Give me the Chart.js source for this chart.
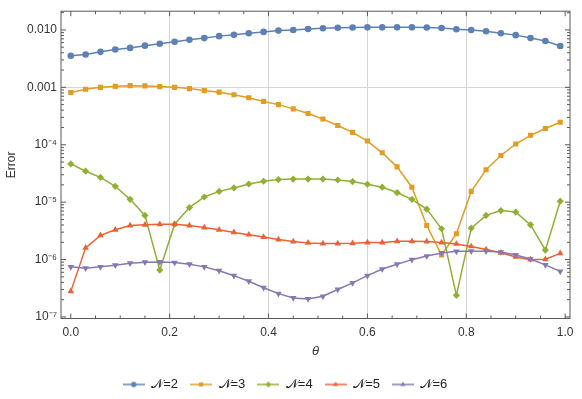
<!DOCTYPE html>
<html>
<head>
<meta charset="utf-8">
<script src="https://cdn.jsdelivr.net/npm/chart.js"></script>
<style>
  body { margin: 0; background: #fff; }
</style>
</head>
<body>
<canvas id="errChart" width="582" height="399"></canvas>
<script>
// theta values (x)
const theta = [0, 0.03, 0.06, 0.09, 0.12, 0.15, 0.18, 0.21, 0.24, 0.27, 0.30, 0.33,
  0.36, 0.39, 0.42, 0.45, 0.48, 0.51, 0.54, 0.57, 0.60, 0.63, 0.66, 0.69, 0.72,
  0.75, 0.78, 0.81, 0.84, 0.87, 0.90, 0.93, 0.96, 0.99];

// error for each N
const errN2 = [3.55e-3, 3.73e-3, 4.15e-3, 4.55e-3, 4.86e-3, 5.32e-3, 5.75e-3, 6.23e-3,
  6.74e-3, 7.21e-3, 7.80e-3, 8.21e-3, 8.77e-3, 9.24e-3, 9.73e-3, 1.00e-2, 1.04e-2,
  1.07e-2, 1.09e-2, 1.10e-2, 1.11e-2, 1.11e-2, 1.11e-2, 1.11e-2, 1.10e-2, 1.08e-2,
  1.03e-2, 1.00e-2, 9.50e-3, 8.77e-3, 8.12e-3, 7.21e-3, 6.41e-3, 5.26e-3];
const errN3 = [8.11e-4, 9.27e-4, 1.00e-3, 1.04e-3, 1.07e-3, 1.06e-3, 1.03e-3, 1.00e-3,
  9.50e-4, 8.78e-4, 8.24e-4, 7.41e-4, 6.58e-4, 5.69e-4, 5.00e-4, 4.22e-4, 3.51e-4,
  2.80e-4, 2.16e-4, 1.64e-4, 1.16e-4, 7.24e-5, 4.12e-5, 1.82e-5, 3.91e-6, 1.20e-6,
  2.82e-6, 1.54e-5, 3.66e-5, 6.50e-5, 1.03e-4, 1.46e-4, 1.92e-4, 2.46e-4];
const errN4 = [4.63e-5, 3.46e-5, 2.70e-5, 1.89e-5, 1.12e-5, 5.88e-6, 6.56e-7, 4.12e-6,
  8.05e-6, 1.23e-5, 1.54e-5, 1.77e-5, 2.07e-5, 2.31e-5, 2.47e-5, 2.52e-5, 2.52e-5,
  2.52e-5, 2.43e-5, 2.28e-5, 2.05e-5, 1.82e-5, 1.47e-5, 1.12e-5, 7.55e-6, 3.44e-6,
  2.38e-7, 3.52e-6, 5.88e-6, 7.14e-6, 6.71e-6, 4.02e-6, 1.46e-6, 1.04e-5];
const errN5 = [2.79e-7, 1.60e-6, 2.64e-6, 3.30e-6, 3.91e-6, 4.02e-6, 4.12e-6, 4.12e-6,
  3.91e-6, 3.61e-6, 3.30e-6, 2.97e-6, 2.71e-6, 2.47e-6, 2.23e-6, 2.06e-6, 1.95e-6,
  1.90e-6, 1.90e-6, 1.92e-6, 1.98e-6, 1.98e-6, 2.08e-6, 2.08e-6, 2.06e-6, 1.98e-6,
  1.87e-6, 1.69e-6, 1.50e-6, 1.31e-6, 1.11e-6, 9.96e-7, 1.01e-6, 1.28e-6];
const errN6 = [7.46e-7, 7.09e-7, 7.46e-7, 7.98e-7, 8.64e-7, 8.99e-7, 9.10e-7, 8.86e-7,
  8.31e-7, 7.46e-7, 6.38e-7, 5.24e-7, 4.19e-7, 3.23e-7, 2.55e-7, 2.14e-7, 2.06e-7,
  2.29e-7, 3.01e-7, 3.93e-7, 5.24e-7, 6.83e-7, 8.31e-7, 9.96e-7, 1.15e-6, 1.30e-6,
  1.39e-6, 1.40e-6, 1.40e-6, 1.35e-6, 1.20e-6, 1.02e-6, 8.09e-7, 6.21e-7];

const seriesLabels = ['\u{1D4A9}=2', '\u{1D4A9}=3', '\u{1D4A9}=4', '\u{1D4A9}=5', '\u{1D4A9}=6'];

// tick labels
const xTicks = [0, 0.2, 0.4, 0.6, 0.8, 1.0];
const xGrid = [0.2, 0.4, 0.6, 0.8];
const yTicks = [1e-2, 1e-3, 1e-4, 1e-5, 1e-6, 1e-7];
const yTickLabels = ['0.010', '0.001', '10\u207B\u2074', '10\u207B\u2075', '10\u207B\u2076', '10\u207B\u2077'];
const yGrid = [1e-3];

const colors = ['#5E81B5', '#E19C24', '#8FB032', '#EB6235', '#8778B3'];
const markers = [
  { style: 'circle', r: 3.3, rot: 0 },
  { style: 'rect', r: 3.6, rot: 0 },
  { style: 'rectRot', r: 3.6, rot: 0 },
  { style: 'triangle', r: 3.8, rot: 0 },
  { style: 'triangle', r: 3.8, rot: 180 }
];
const allErr = [errN2, errN3, errN4, errN5, errN6];

// little line+marker icon for the legend
function legendIcon(color, m) {
  const c = document.createElement('canvas');
  c.width = 22; c.height = 10;
  const g = c.getContext('2d');
  g.strokeStyle = color; g.fillStyle = color; g.lineWidth = 1.5;
  g.beginPath(); g.moveTo(0, 5); g.lineTo(22, 5); g.stroke();
  Chart.helpers.drawPoint(g, { pointStyle: m.style, radius: m.r * 0.8, rotation: m.rot, borderWidth: 0 }, 11, 5);
  return c;
}

const datasets = allErr.map((vals, i) => ({
  label: seriesLabels[i],
  data: theta.map((t, j) => ({ x: t, y: vals[j] })),
  borderColor: colors[i],
  backgroundColor: colors[i],
  borderWidth: 1.5,
  pointStyle: markers[i].style,
  pointRotation: markers[i].rot,
  pointRadius: markers[i].r,
  pointBorderWidth: 0,
  pointBackgroundColor: colors[i],
  tension: 0,
  order: 5 - i
}));

const icons = colors.map((c, i) => legendIcon(c, markers[i]));

// Mathematica-like frame with inward ticks
const framePlugin = {
  id: 'frame',
  beforeDatasetsDraw(chart) {
    const { ctx, chartArea: a, scales: { x, y } } = chart;
    ctx.save();
    ctx.strokeStyle = '#5a5a5a';
    ctx.lineWidth = 1;
    ctx.beginPath();
    for (let k = 0; k <= 20; k++) {
      const v = k * 0.05;
      const px = x.getPixelForValue(v);
      const len = k % 4 === 0 ? 5 : 3;
      ctx.moveTo(px, a.bottom); ctx.lineTo(px, a.bottom - len);
      ctx.moveTo(px, a.top); ctx.lineTo(px, a.top + len);
    }
    for (let e = -8; e <= -1; e++) {
      for (let m = 1; m <= 9; m++) {
        const v = m * Math.pow(10, e);
        if (v < y.min || v > y.max) continue;
        const py = y.getPixelForValue(v);
        const len = m === 1 ? 5 : 3;
        ctx.moveTo(a.left, py); ctx.lineTo(a.left + len, py);
        ctx.moveTo(a.right, py); ctx.lineTo(a.right - len, py);
      }
    }
    ctx.stroke();
    ctx.strokeRect(a.left, a.top, a.right - a.left, a.bottom - a.top);
    ctx.restore();
  }
};

Chart.defaults.font.family = "'Liberation Sans', Arial, sans-serif";
Chart.defaults.color = '#333';

new Chart(document.getElementById('errChart'), {
  type: 'line',
  data: { datasets },
  options: {
    responsive: false,
    animation: false,
    devicePixelRatio: 1,
    layout: { padding: { top: 6, right: 12, left: 0, bottom: -2 } },
    scales: {
      x: {
        type: 'linear',
        min: -0.0198,
        max: 1.0098,
        afterBuildTicks: s => { s.ticks = xTicks.map(v => ({ value: v })); },
        afterFit: s => { s.height = 401 - 318.5 - (s.chart.legend ? s.chart.legend.height : 35); },
        ticks: {
          padding: 7,
          font: { size: 12 },
          color: '#333',
          callback: v => Number(v).toFixed(1)
        },
        grid: {
          drawTicks: false,
          color: c => (c.tick && xGrid.includes(c.tick.value)) ? '#d6d6d6' : 'rgba(0,0,0,0)'
        },
        border: { display: false },
        title: { display: true, text: '\u03B8', font: { size: 13, style: 'italic' }, color: '#333', padding: { top: 0, bottom: 7 } }
      },
      y: {
        type: 'logarithmic',
        min: 9.4e-8,
        max: 0.0212,
        afterBuildTicks: s => { s.ticks = yTicks.map(v => ({ value: v })); },
        afterFit: s => { s.width = 61; },
        ticks: {
          padding: 4,
          font: { size: 12 },
          color: '#333',
          callback: v => yTickLabels[yTicks.indexOf(v)]
        },
        grid: {
          drawTicks: false,
          color: c => (c.tick && yGrid.includes(c.tick.value)) ? '#d6d6d6' : 'rgba(0,0,0,0)'
        },
        border: { display: false },
        title: { display: true, text: 'Error', font: { size: 12 }, color: '#333', padding: { top: 4, bottom: 0 } }
      }
    },
    plugins: {
      legend: {
        position: 'bottom',
        labels: {
          usePointStyle: true,
          pointStyleWidth: 22,
          padding: 12,
          color: '#222',
          font: { size: 13 },
          sort: (a, b) => a.datasetIndex - b.datasetIndex,
          generateLabels: chart => {
            const items = Chart.defaults.plugins.legend.labels.generateLabels(chart);
            items.forEach(it => { it.pointStyle = icons[it.datasetIndex]; });
            return items;
          }
        }
      },
      tooltip: { enabled: false }
    }
  },
  plugins: [framePlugin]
});
</script>
</body>
</html>
